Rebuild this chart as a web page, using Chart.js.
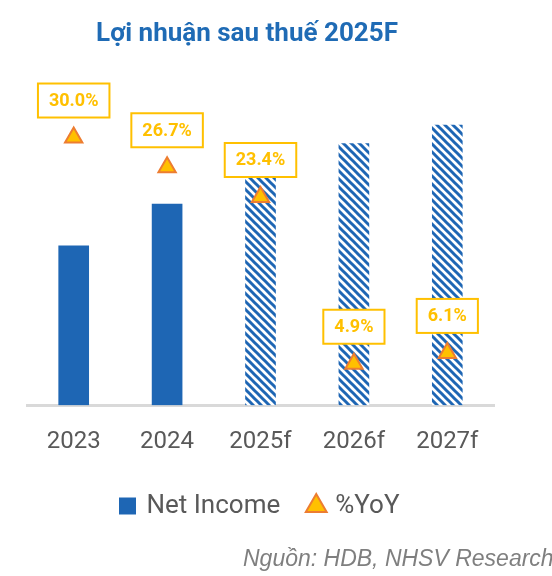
<!DOCTYPE html>
<html>
<head>
<meta charset="utf-8">
<script src="https://cdn.jsdelivr.net/npm/chart.js@4.4.1/dist/chart.umd.min.js"></script>
<style>
  html, body { margin: 0; padding: 0; background: #fff; }
</style>
</head>
<body>
<canvas id="bieuDo" width="552" height="576"></canvas>
<script>
const nam = ['2023', '2024', '2025f', '2026f', '2027f'];
const loiNhuan = [10.3, 13.0, 14.9, 16.9, 18.1];
const tangTruong = [30.0, 26.7, 23.4, 4.9, 6.1];
const nhanTangTruong = ['30.0%', '26.7%', '23.4%', '4.9%', '6.1%'];
const duBao = [false, false, true, true, true];

const xanh = '#1e66b4';
const vang = '#ffc000';
const cam = '#ed7d31';
const xam = '#595959';

// soc cheo cho cac nam du bao
function taoSoc() {
  const c = document.createElement('canvas');
  c.width = 8; c.height = 8;
  const g = c.getContext('2d');
  g.fillStyle = '#fff';
  g.fillRect(0, 0, 8, 8);
  g.strokeStyle = xanh;
  g.lineWidth = 3;
  for (let k = -1; k <= 1; k++) {
    g.beginPath();
    g.moveTo(-2, k * 8 - 2);
    g.lineTo(10, k * 8 + 10);
    g.stroke();
  }
  return g.createPattern(c, 'repeat');
}

const ctx = document.getElementById('bieuDo').getContext('2d');
const mauCot = duBao.map(f => f ? taoSoc() : xanh);

const veChu = {
  id: 'veChu',
  afterDatasetsDraw(chart) {
    const c = chart.ctx;
    const meta = chart.getDatasetMeta(1);
    c.save();
    c.font = 'bold 18px Roboto';
    c.textAlign = 'center';
    c.textBaseline = 'middle';
    meta.data.forEach((pt, i) => {
      const w = c.measureText(nhanTangTruong[i]).width + 22;
      const h = 34;
      const cx = pt.x, cy = pt.y - 37;
      c.fillStyle = '#fff';
      c.fillRect(cx - w / 2, cy - h / 2, w, h);
      c.strokeStyle = vang;
      c.lineWidth = 2;
      c.strokeRect(cx - w / 2, cy - h / 2, w, h);
      c.fillStyle = vang;
      c.fillText(nhanTangTruong[i], cx, cy + 1);
    });
    c.restore();
  },
  afterDraw(chart) {
    const c = chart.ctx;
    c.save();
    c.font = 'bold 26px Roboto';
    c.fillStyle = '#1f6bb5';
    c.textAlign = 'center';
    c.textBaseline = 'alphabetic';
    c.fillText('Lợi nhuận sau thuế 2025F', 247, 41);
    c.font = 'italic 23px "Liberation Sans"';
    c.fillStyle = '#7f7f7f';
    c.textAlign = 'left';
    c.fillText('Nguồn: HDB, NHSV Research', 243, 566);
    c.restore();
  }
};

Chart.defaults.font.family = 'Roboto';

new Chart(ctx, {
  type: 'bar',
  data: {
    labels: nam,
    datasets: [
      {
        label: 'Net Income',
        data: loiNhuan,
        backgroundColor: mauCot,
        borderWidth: 0,
        barThickness: 30,
        yAxisID: 'y',
        order: 2
      },
      {
        type: 'line',
        label: '%YoY',
        data: tangTruong,
        showLine: false,
        pointStyle: 'triangle',
        pointRadius: 10,
        pointBackgroundColor: vang,
        pointBorderColor: cam,
        pointBorderWidth: 2,
        yAxisID: 'y1',
        order: 1
      }
    ]
  },
  options: {
    responsive: false,
    animation: false,
    events: [],
    layout: { padding: { top: 60, left: 27, right: 58, bottom: 47 } },
    plugins: {
      tooltip: { enabled: false },
      title: { display: false },
      legend: {
        position: 'bottom',
        labels: {
          usePointStyle: true,
          boxHeight: 17,
          boxWidth: 12,
          padding: 30,
          color: xam,
          font: { size: 26 },
          generateLabels: () => [
            { text: 'Net Income', fillStyle: xanh, strokeStyle: xanh, lineWidth: 0, pointStyle: 'rect', datasetIndex: 0, fontColor: xam },
            { text: '%YoY', fillStyle: vang, strokeStyle: cam, lineWidth: 2, pointStyle: 'triangle', datasetIndex: 1, fontColor: xam }
          ]
        }
      }
    },
    scales: {
      x: {
        grid: { display: false },
        border: { color: '#d9d9d9', width: 3 },
        ticks: { color: xam, font: { size: 24 }, padding: 14 },
        afterFit: (s) => { s.height -= 7; }
      },
      y: { display: false, min: 0, max: 22.3 },
      y1: { display: false, min: 0.3, max: 38.6 }
    }
  },
  plugins: [veChu]
});
</script>
</body>
</html>
